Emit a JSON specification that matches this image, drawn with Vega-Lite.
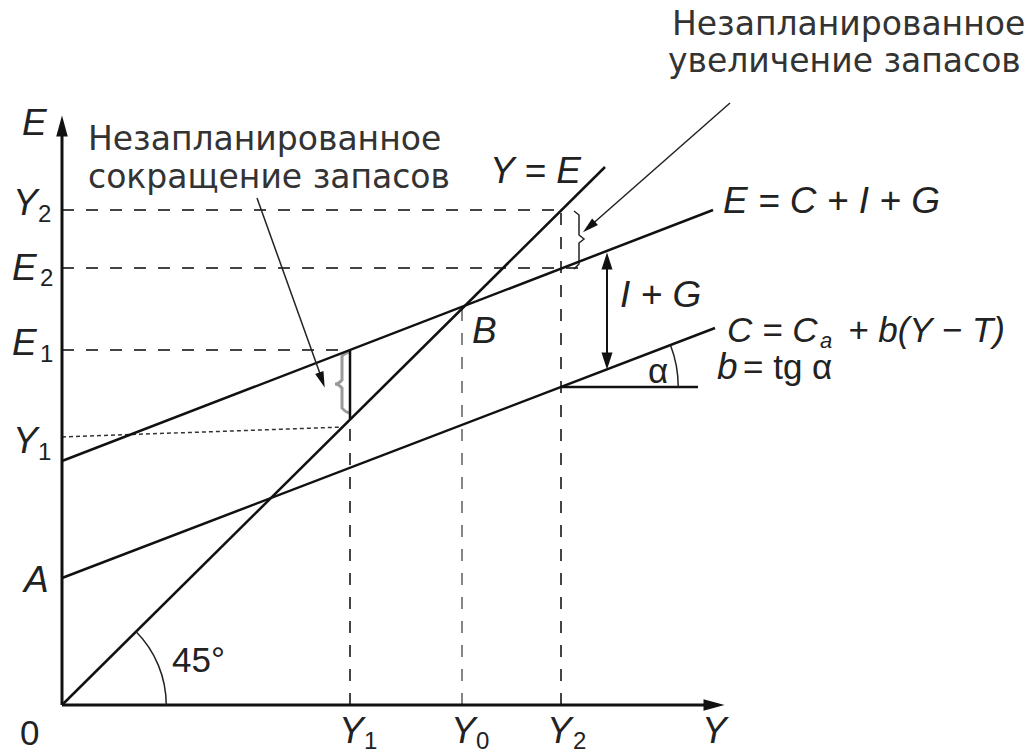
{
  "$schema": "https://vega.github.io/schema/vega-lite/v6.json",
  "width": 1034,
  "height": 755,
  "padding": 0,
  "autosize": {"type": "none"},
  "background": "white",
  "config": {"view": {"stroke": null}},
  "datasets": {
    "segs": [
      {"id": "yaxis", "k": "axis", "o": 0, "u": 0, "v": 0},
      {"id": "yaxis", "k": "axis", "o": 1, "u": 0, "v": 582},
      {"id": "xaxis", "k": "axis", "o": 0, "u": 0, "v": 0},
      {"id": "xaxis", "k": "axis", "o": 1, "u": 655, "v": 0},
      {"id": "YE", "k": "main", "o": 0, "u": 0, "v": 0},
      {"id": "YE", "k": "main", "o": 1, "u": 543, "v": 538},
      {"id": "AE", "k": "main", "o": 0, "u": 0, "v": 244},
      {"id": "AE", "k": "main", "o": 1, "u": 651, "v": 495},
      {"id": "AC", "k": "main", "o": 0, "u": 0, "v": 127},
      {"id": "AC", "k": "main", "o": 1, "u": 653, "v": 377},
      {"id": "b", "k": "main", "o": 0, "u": 499, "v": 318},
      {"id": "b", "k": "main", "o": 1, "u": 636, "v": 318},
      {"id": "y1s", "k": "main", "o": 0, "u": 288, "v": 286},
      {"id": "y1s", "k": "main", "o": 1, "u": 288, "v": 355},
      {"id": "ig", "k": "thin", "o": 0, "u": 545, "v": 340},
      {"id": "ig", "k": "thin", "o": 1, "u": 545, "v": 448},
      {"id": "ar1", "k": "hair", "o": 0, "u": 668, "v": 602},
      {"id": "ar1", "k": "hair", "o": 1, "u": 527, "v": 478},
      {"id": "ar2", "k": "hair", "o": 0, "u": 195, "v": 507},
      {"id": "ar2", "k": "hair", "o": 1, "u": 261, "v": 323},
      {"id": "hY2", "k": "dash", "o": 0, "u": 0, "v": 495},
      {"id": "hY2", "k": "dash", "o": 1, "u": 499, "v": 495},
      {"id": "hE2", "k": "dash", "o": 0, "u": 0, "v": 437},
      {"id": "hE2", "k": "dash", "o": 1, "u": 516, "v": 437},
      {"id": "hE1", "k": "dash", "o": 0, "u": 0, "v": 355},
      {"id": "hE1", "k": "dash", "o": 1, "u": 288, "v": 355},
      {"id": "vY1", "k": "dash", "o": 0, "u": 288, "v": 0},
      {"id": "vY1", "k": "dash", "o": 1, "u": 288, "v": 280},
      {"id": "vY2", "k": "dash", "o": 0, "u": 499, "v": 0},
      {"id": "vY2", "k": "dash", "o": 1, "u": 499, "v": 495},
      {"id": "vY0", "k": "gdash", "o": 0, "u": 400, "v": 0},
      {"id": "vY0", "k": "gdash", "o": 1, "u": 400, "v": 395},
      {"id": "hY1", "k": "dot", "o": 0, "u": 0, "v": 268},
      {"id": "hY1", "k": "dot", "o": 1, "u": 281, "v": 278},
      {"id": "br", "k": "brace", "o": 0, "u": 512, "v": 494},
      {"id": "br", "k": "brace", "o": 1, "u": 517, "v": 490},
      {"id": "br", "k": "brace", "o": 2, "u": 517, "v": 470},
      {"id": "br", "k": "brace", "o": 3, "u": 522, "v": 466},
      {"id": "br", "k": "brace", "o": 4, "u": 517, "v": 462},
      {"id": "br", "k": "brace", "o": 5, "u": 517, "v": 441},
      {"id": "br", "k": "brace", "o": 6, "u": 512, "v": 436},
      {"id": "gb", "k": "gbrace", "o": 0, "u": 287, "v": 353},
      {"id": "gb", "k": "gbrace", "o": 1, "u": 280, "v": 349},
      {"id": "gb", "k": "gbrace", "o": 2, "u": 280, "v": 325},
      {"id": "gb", "k": "gbrace", "o": 3, "u": 273, "v": 321},
      {"id": "gb", "k": "gbrace", "o": 4, "u": 280, "v": 317},
      {"id": "gb", "k": "gbrace", "o": 5, "u": 280, "v": 297},
      {"id": "gb", "k": "gbrace", "o": 6, "u": 287, "v": 292}
    ],
    "heads": [
      {"k": "axisUp", "u": 0, "v": 579},
      {"k": "axisRight", "u": 652, "v": 0},
      {"k": "igUp", "u": 545, "v": 444},
      {"k": "igDown", "u": 545, "v": 344},
      {"k": "ar1", "u": 527, "v": 478},
      {"k": "ar2", "u": 260, "v": 325}
    ],
    "arcs": [
      {"k": "a45", "u": 0, "v": 0},
      {"k": "alpha", "u": 499, "v": 318}
    ],
    "txt": [
      {"k": "cyr", "t": "Незапланированное", "u": 610, "v": 670},
      {"k": "cyr", "t": "увеличение запасов", "u": 606, "v": 633},
      {"k": "cyr", "t": "Незапланированное", "u": 26, "v": 555},
      {"k": "cyr", "t": "сокращение запасов", "u": 26, "v": 517},
      {"k": "math", "t": "E", "u": -40, "v": 570},
      {"k": "math", "t": "Y", "u": -49, "v": 490},
      {"k": "math", "t": "E", "u": -50, "v": 425},
      {"k": "math", "t": "E", "u": -50, "v": 350},
      {"k": "math", "t": "Y", "u": -49, "v": 252},
      {"k": "math", "t": "A", "u": -38, "v": 113},
      {"k": "math", "t": "Y", "u": 277, "v": -38},
      {"k": "math", "t": "Y", "u": 389, "v": -38},
      {"k": "math", "t": "Y", "u": 485, "v": -38},
      {"k": "math", "t": "Y", "u": 640, "v": -38},
      {"k": "math", "t": "Y = E", "u": 428, "v": 522},
      {"k": "math", "t": "E = C + I + G", "u": 661, "v": 492},
      {"k": "cmath", "t": "C = C", "u": 665, "v": 363},
      {"k": "cmath", "t": "+ b(Y − T)", "u": 786, "v": 363},
      {"k": "math", "t": "I + G", "u": 558, "v": 398},
      {"k": "math", "t": "B", "u": 410, "v": 362},
      {"k": "math", "t": "b", "u": 655, "v": 326},
      {"k": "up", "t": "0", "u": -42, "v": -40},
      {"k": "up", "t": "45°", "u": 110, "v": 33},
      {"k": "up", "t": "= tg α", "u": 681, "v": 326},
      {"k": "up", "t": "α", "u": 586, "v": 322},
      {"k": "sub", "t": "2", "u": -24, "v": 483},
      {"k": "sub", "t": "2", "u": -22, "v": 419},
      {"k": "sub", "t": "1", "u": -22, "v": 343},
      {"k": "sub", "t": "1", "u": -24, "v": 245},
      {"k": "sub", "t": "1", "u": 302, "v": -44},
      {"k": "sub", "t": "0", "u": 414, "v": -44},
      {"k": "sub", "t": "2", "u": 511, "v": -44},
      {"k": "suba", "t": "a", "u": 758, "v": 357}
    ]
  },
  "encoding": {
    "x": {"field": "u", "type": "quantitative", "scale": {"domain": [-62, 972], "nice": false, "zero": false}, "axis": null},
    "y": {"field": "v", "type": "quantitative", "scale": {"domain": [-50, 705], "nice": false, "zero": false}, "axis": null}
  },
  "layer": [
    {"data": {"name": "segs"}, "transform": [{"filter": "datum.k == 'dash'"}],
     "mark": {"type": "line", "stroke": "#444444", "strokeWidth": 2, "strokeDash": [12, 12]},
     "encoding": {"detail": {"field": "id"}, "order": {"field": "o"}}},
    {"data": {"name": "segs"}, "transform": [{"filter": "datum.k == 'gdash'"}],
     "mark": {"type": "line", "stroke": "#858585", "strokeWidth": 2, "strokeDash": [12, 12]},
     "encoding": {"detail": {"field": "id"}, "order": {"field": "o"}}},
    {"data": {"name": "segs"}, "transform": [{"filter": "datum.k == 'dot'"}],
     "mark": {"type": "line", "stroke": "#333333", "strokeWidth": 1.5, "strokeDash": [4, 3]},
     "encoding": {"detail": {"field": "id"}, "order": {"field": "o"}}},
    {"data": {"name": "segs"}, "transform": [{"filter": "datum.k == 'gbrace'"}],
     "mark": {"type": "line", "stroke": "#9a9a9a", "strokeWidth": 3, "interpolate": "monotone"},
     "encoding": {"detail": {"field": "id"}, "order": {"field": "o"}}},
    {"data": {"name": "segs"}, "transform": [{"filter": "datum.k == 'brace'"}],
     "mark": {"type": "line", "stroke": "#222222", "strokeWidth": 1.5},
     "encoding": {"detail": {"field": "id"}, "order": {"field": "o"}}},
    {"data": {"name": "segs"}, "transform": [{"filter": "datum.k == 'axis'"}],
     "mark": {"type": "line", "stroke": "#111111", "strokeWidth": 3},
     "encoding": {"detail": {"field": "id"}, "order": {"field": "o"}}},
    {"data": {"name": "segs"}, "transform": [{"filter": "datum.k == 'main'"}],
     "mark": {"type": "line", "stroke": "#111111", "strokeWidth": 2.5},
     "encoding": {"detail": {"field": "id"}, "order": {"field": "o"}}},
    {"data": {"name": "segs"}, "transform": [{"filter": "datum.k == 'thin'"}],
     "mark": {"type": "line", "stroke": "#111111", "strokeWidth": 2},
     "encoding": {"detail": {"field": "id"}, "order": {"field": "o"}}},
    {"data": {"name": "segs"}, "transform": [{"filter": "datum.k == 'hair'"}],
     "mark": {"type": "line", "stroke": "#222222", "strokeWidth": 1.5},
     "encoding": {"detail": {"field": "id"}, "order": {"field": "o"}}},
    {"data": {"name": "arcs"}, "transform": [{"filter": "datum.k == 'a45'"}],
     "mark": {"type": "arc", "fill": "#222222", "radius": 105, "radius2": 103.5, "theta": 0.785, "theta2": 1.571}},
    {"data": {"name": "arcs"}, "transform": [{"filter": "datum.k == 'alpha'"}],
     "mark": {"type": "arc", "fill": "#222222", "radius": 118, "radius2": 116.5, "theta": 1.206, "theta2": 1.571}},
    {"data": {"name": "heads"}, "transform": [{"filter": "datum.k == 'axisUp'"}],
     "mark": {"type": "point", "shape": "M0,-1L0.55,1L-0.55,1Z", "filled": true, "fill": "#111111", "stroke": null, "size": 441, "opacity": 1, "angle": 0}},
    {"data": {"name": "heads"}, "transform": [{"filter": "datum.k == 'axisRight'"}],
     "mark": {"type": "point", "shape": "M0,-1L0.55,1L-0.55,1Z", "filled": true, "fill": "#111111", "stroke": null, "size": 441, "opacity": 1, "angle": 90}},
    {"data": {"name": "heads"}, "transform": [{"filter": "datum.k == 'igUp'"}],
     "mark": {"type": "point", "shape": "M0,-1L0.65,1L-0.65,1Z", "filled": true, "fill": "#111111", "stroke": null, "size": 289, "opacity": 1, "angle": 0}},
    {"data": {"name": "heads"}, "transform": [{"filter": "datum.k == 'igDown'"}],
     "mark": {"type": "point", "shape": "M0,-1L0.65,1L-0.65,1Z", "filled": true, "fill": "#111111", "stroke": null, "size": 289, "opacity": 1, "angle": 180}},
    {"data": {"name": "heads"}, "transform": [{"filter": "datum.k == 'ar1'"}],
     "mark": {"type": "point", "shape": "M0,-1L0.55,1L-0.55,1Z", "filled": true, "fill": "#111111", "stroke": null, "size": 256, "opacity": 1, "angle": 228.7}},
    {"data": {"name": "heads"}, "transform": [{"filter": "datum.k == 'ar2'"}],
     "mark": {"type": "point", "shape": "M0,-1L0.55,1L-0.55,1Z", "filled": true, "fill": "#111111", "stroke": null, "size": 256, "opacity": 1, "angle": 160.3}},
    {"data": {"name": "txt"}, "transform": [{"filter": "datum.k == 'cyr'"}],
     "mark": {"type": "text", "font": "DejaVu Sans", "fontSize": 33, "align": "left", "baseline": "alphabetic", "fill": "#333333"},
     "encoding": {"text": {"field": "t"}}},
    {"data": {"name": "txt"}, "transform": [{"filter": "datum.k == 'math'"}],
     "mark": {"type": "text", "font": "Liberation Sans", "fontStyle": "italic", "fontSize": 37, "align": "left", "baseline": "alphabetic", "fill": "#222222"},
     "encoding": {"text": {"field": "t"}}},
    {"data": {"name": "txt"}, "transform": [{"filter": "datum.k == 'cmath'"}],
     "mark": {"type": "text", "font": "Liberation Sans", "fontStyle": "italic", "fontSize": 35, "align": "left", "baseline": "alphabetic", "fill": "#222222"},
     "encoding": {"text": {"field": "t"}}},
    {"data": {"name": "txt"}, "transform": [{"filter": "datum.k == 'up'"}],
     "mark": {"type": "text", "font": "Liberation Sans", "fontSize": 35, "align": "left", "baseline": "alphabetic", "fill": "#222222"},
     "encoding": {"text": {"field": "t"}}},
    {"data": {"name": "txt"}, "transform": [{"filter": "datum.k == 'sub'"}],
     "mark": {"type": "text", "font": "Liberation Sans", "fontSize": 24, "align": "left", "baseline": "alphabetic", "fill": "#222222"},
     "encoding": {"text": {"field": "t"}}},
    {"data": {"name": "txt"}, "transform": [{"filter": "datum.k == 'suba'"}],
     "mark": {"type": "text", "font": "Liberation Sans", "fontStyle": "italic", "fontSize": 22, "align": "left", "baseline": "alphabetic", "fill": "#222222"},
     "encoding": {"text": {"field": "t"}}}
  ]
}
